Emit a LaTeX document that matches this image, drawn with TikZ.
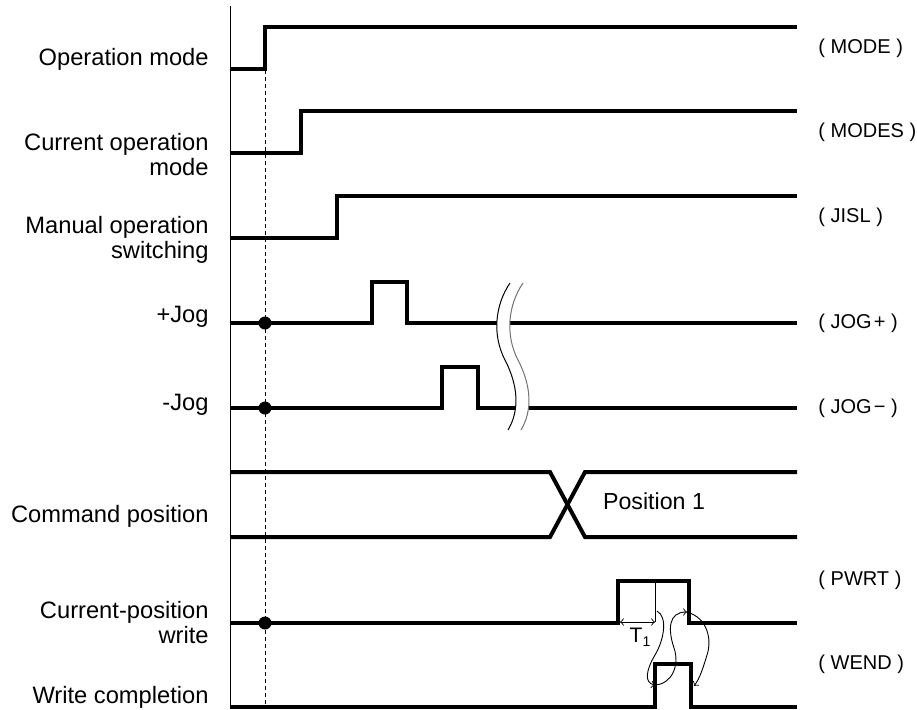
\documentclass[tikz,border=0pt]{standalone}
\usepackage{fontspec}
\setmainfont{Liberation Sans}
\usetikzlibrary{arrows}
\tikzstyle{sig}=[line width=2pt,line join=miter]
\tikzstyle{hair}=[line width=0.5pt]
\tikzstyle{guide}=[line width=0.5pt,dash pattern=on 2pt off 1.5pt]
\tikzstyle{lbl}=[anchor=base east,align=right,inner sep=0pt,font=\fontsize{11.85}{12.5}\selectfont]
\tikzstyle{tag}=[anchor=west,inner sep=0pt,font=\fontsize{10}{12}\selectfont]
\tikzstyle{dot}=[circle,fill,inner sep=0pt,minimum size=6.5pt]
\tikzstyle{cause}=[->,line width=0.45pt]
\newcommand{\sigtag}[1]{(\kern2.8pt#1\kern2.8pt)}

\begin{document}
\begin{tikzpicture}[x=0.5pt,y=-0.5pt]
\useasboundingbox (0,0) rectangle (917,709);
% time axis and reference line
\draw[hair] (230,6) -- (230,709);
\draw[guide] (265,70) -- (265,709);
% signals
\draw[sig] (230,69) -- (265,69) -- (265,27) -- (797,27);
\draw[sig] (230,153) -- (301,153) -- (301,111) -- (797,111);
\draw[sig] (230,238) -- (337,238) -- (337,196) -- (797,196);
\draw[sig] (230,323) -- (372,323) -- (372,282) -- (407,282) -- (407,323) -- (797,323);
\draw[sig] (230,408) -- (442,408) -- (442,367) -- (478,367) -- (478,408) -- (797,408);
\draw[sig] (230,472) -- (550,472) -- (585,537) -- (797,537);
\draw[sig] (230,537) -- (550,537) -- (585,472) -- (797,472);
\draw[sig] (230,623) -- (618,623) -- (618,581) -- (689,581) -- (689,623) -- (797,623);
\draw[sig] (230,707) -- (655,707) -- (655,664) -- (691,664) -- (691,707) -- (797,707);
% break mark
\fill[white] (510,283) .. controls (495,305) and (492,335) .. (505,360) .. controls (518,385) and (520,410) .. (508,430)
  -- (521,430) .. controls (533,410) and (531,385) .. (518,360) .. controls (505,335) and (508,305) .. (523,283) -- cycle;
\draw[hair] (510,283) .. controls (495,305) and (492,335) .. (505,360) .. controls (518,385) and (520,410) .. (508,430);
\draw[hair,black!55] (523,283) .. controls (508,305) and (505,335) .. (518,360) .. controls (531,385) and (533,410) .. (521,430);
% dots
\node[dot] (djogp) at (265,323) {};
\node[dot] (djogm) at (265,408) {};
\node[dot] (dpwrt) at (265,623) {};
% left labels (base of last line)
\node[lbl] (lmode) at (209,65) {Operation mode};
\node[lbl] (lmodes) at (209,175) {Current operation\\mode};
\node[lbl] (ljisl) at (209,258) {Manual operation\\switching};
\node[lbl] (ljogp) at (209,322) {+Jog};
\node[lbl] (ljogm) at (209,410) {-Jog};
\node[lbl] (lcmd) at (209,522) {Command position};
\node[lbl] (lpwrt) at (209,643) {Current-position\\write};
\node[lbl] (lwend) at (209,703) {Write completion};
% right tags
\node[tag] (tmode) at (818,48) {\sigtag{MODE}};
\node[tag] (tmodes) at (818,132) {\sigtag{MODES}};
\node[tag] (tjisl) at (818,217) {\sigtag{JISL}};
\node[tag] (tjogp) at (818,323) {\sigtag{JOG\kern1pt+}};
\node[tag] (tjogm) at (818,408) {\sigtag{JOG\kern1pt−}};
\node[tag] (tpwrt) at (818,580) {\sigtag{PWRT}};
\node[tag] (twend) at (818,664) {\sigtag{WEND}};
\node[font=\fontsize{11.6}{12.5}\selectfont] (pos1) at (654,501) {Position 1};
% T1 timing
\coordinate (mktop) at (655,581);
\coordinate (mkbot) at (655,622);
\coordinate (pwrise) at (620,622);
\draw[hair] (mktop) -- (mkbot);
\draw[<->,line width=0.45pt] (pwrise) -- (mkbot);
\node[font=\fontsize{10.5}{12}\selectfont] (t1) at (640,637) {T\raisebox{-0.35ex}{\fontsize{7}{8}\selectfont 1}};
% causal arrows
\coordinate (pw1) at (657,611);
\coordinate (we1) at (655,685);
\coordinate (pw2) at (687,612);
\coordinate (we2) at (694,686);
\draw[cause] (pw1) .. controls (668,617) and (664,640) .. (655,655) .. controls (646,670) and (644,683) .. (we1);
\draw[cause] (we1) .. controls (672,684) and (680,665) .. (674,648) .. controls (668,630) and (668,612) .. (pw2);
\draw[cause] (pw2) .. controls (708,618) and (712,640) .. (707,655) .. controls (703,668) and (700,678) .. (we2);
\end{tikzpicture}
\end{document}
